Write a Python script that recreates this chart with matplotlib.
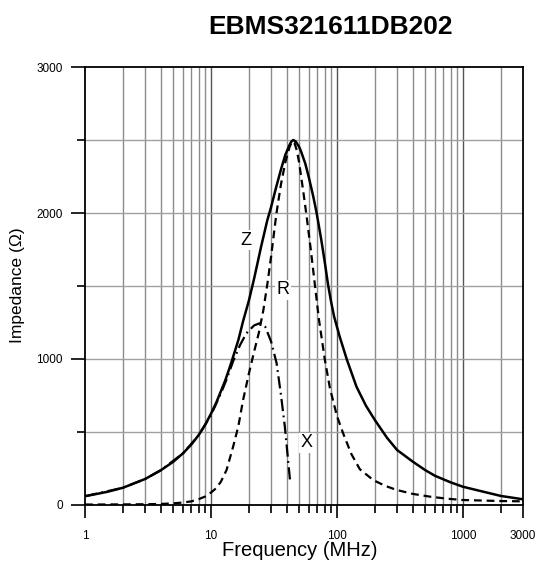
import matplotlib
matplotlib.use("Agg")
import matplotlib.pyplot as plt
from matplotlib.ticker import FixedLocator, NullFormatter

plt.rcParams['font.family'] = ['Liberation Sans', 'DejaVu Sans']

# |Z| curve (solid)
z_freq = [1, 1.5, 2, 3, 4, 5, 6, 7, 8, 9, 10, 11, 12, 13, 14, 15, 16.5, 18, 20, 22, 25, 28, 30, 33, 36,
          39, 42, 43.5, 45, 47, 50, 52, 56, 60, 65, 69, 75, 80, 85, 90, 95, 105, 120, 143, 170, 200, 250,
          300, 400, 500, 600, 800, 1000, 1500, 2000, 3000]
z_vals = [60, 90, 118, 178, 238, 295, 354, 415, 480, 550, 625, 700, 780, 855, 935, 1016, 1130, 1260, 1400, 1550, 1769, 1950, 2040, 2180, 2300,
          2400, 2465, 2490, 2500, 2490, 2455, 2420, 2340, 2240, 2110, 2000, 1820, 1665, 1510, 1390, 1290, 1155, 995, 810, 680, 582, 460,
          377, 297, 240, 200, 155, 125, 88, 62, 39]

# R curve (dashed)
r_freq = [1, 2, 3, 4, 5, 6, 7, 8, 9, 10, 11, 12, 13.3, 15, 16.5, 18, 20, 22, 24, 26, 28, 30, 33,
          36, 39, 42, 44, 46, 48, 50, 54, 57, 62, 67, 72, 80, 88, 100, 112, 130, 152, 194, 240, 298, 400, 548,
          750, 1000, 1500, 2000, 3000]
r_vals = [3, 4, 5, 7, 11, 17, 25, 40, 58, 85, 115, 160, 240, 400, 540, 720, 900, 1050, 1180, 1330, 1510, 1700, 1990,
          2200, 2350, 2450, 2490, 2480, 2430, 2350, 2150, 2000, 1750, 1500, 1270, 1000, 800, 610, 491, 350, 245, 171, 132, 103, 76, 57,
          43, 34, 30, 27, 25]

# X curve (dash-dot)
x_freq = [1, 2, 3, 4, 6, 8, 10, 12, 13.3, 15, 17, 19.1, 22, 24.4, 27, 30, 33.2, 36, 38.6, 40.5, 42.4]
x_vals = [60, 118, 178, 238, 354, 478, 615, 765, 860, 985, 1095, 1176, 1230, 1245, 1220, 1120, 971, 750, 536, 350, 171]

fig = plt.figure(figsize=(5.37, 5.66), dpi=100)
ax = fig.add_axes([0.1583, 0.1078, 0.8156, 0.7738])

ax.set_xscale('log')
ax.set_xlim(1, 3000)
ax.set_ylim(0, 3000)

# grid
minor_x = [m * 10 ** d for d in range(0, 4) for m in range(2, 10) if m * 10 ** d < 3000]
for xv in minor_x:
    ax.axvline(xv, color='#8c8c8c', lw=1.0, zorder=1)
for xv in [10, 100, 1000]:
    ax.axvline(xv, color='#555555', lw=1.0, zorder=1)
for yv in range(500, 3000, 500):
    ax.axhline(yv, color='#a0a0a0', lw=1.0, zorder=1)

ax.plot(z_freq, z_vals, color='black', lw=1.8, zorder=3)
ax.plot(r_freq, r_vals, color='black', lw=1.6, dashes=(3.5, 2.2), zorder=3)
ax.plot(x_freq, x_vals, color='black', lw=1.6, dashes=(5.5, 2.0, 0.8, 2.0), zorder=3)

lbl = dict(fontsize=13, ha='center', va='center', zorder=4,
           bbox=dict(facecolor='white', edgecolor='none', pad=1.0))
ax.text(19.0, 1815, 'Z', **lbl)
ax.text(37.3, 1473, 'R', **lbl)
ax.text(57.8, 425, 'X', **lbl)

# ticks
ax.xaxis.set_major_locator(FixedLocator([1, 10, 100, 1000, 3000]))
ax.set_xticklabels(['1', '10', '100', '1000', '3000'])
ax.xaxis.set_minor_locator(FixedLocator(minor_x))
ax.xaxis.set_minor_formatter(NullFormatter())
ax.yaxis.set_major_locator(FixedLocator([0, 1000, 2000, 3000]))
ax.yaxis.set_minor_locator(FixedLocator([500, 1500, 2500]))
ax.tick_params(axis='x', which='major', length=9, width=1.2, labelsize=8.5, pad=9, direction='out')
ax.tick_params(axis='x', which='minor', length=6, width=1.2, direction='out')
ax.tick_params(axis='y', which='major', length=10, width=1.2, labelsize=8.5, pad=6, direction='out')
ax.tick_params(axis='y', which='minor', length=5.5, width=1.2, direction='out')

for s in ax.spines.values():
    s.set_linewidth(1.3)
    s.set_zorder(5)

fig.text(300 / 537, 1 - 551 / 566, 'Frequency (MHz)', fontsize=14.5, ha='center', va='center')
fig.text(18 / 537, 1 - 285 / 566, 'Impedance (\u03a9)', fontsize=12.5, ha='center', va='center', rotation=90)
fig.text(331 / 537, 1 - 27 / 566, 'EBMS321611DB202', fontsize=19, fontweight='bold', ha='center', va='center')

fig.savefig('out.png', dpi=100)
